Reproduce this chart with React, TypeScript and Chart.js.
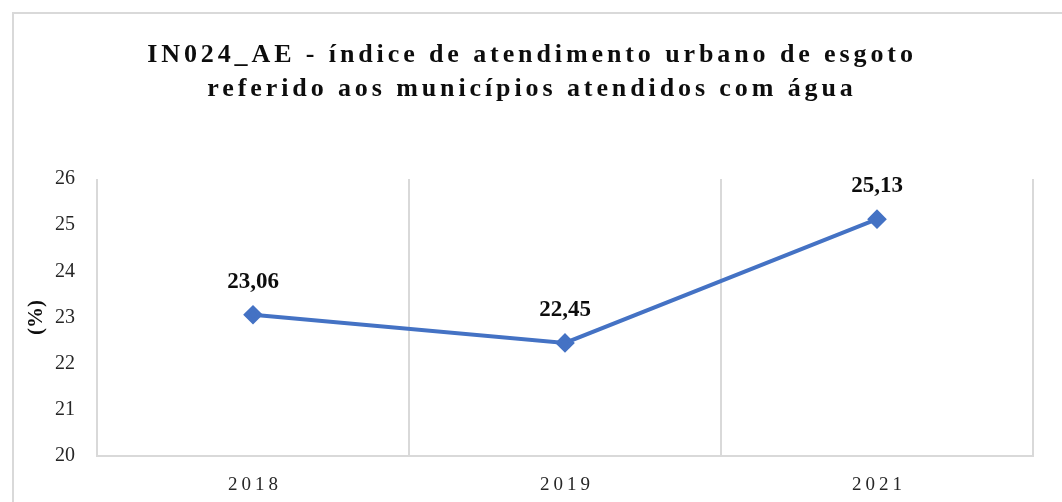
import React, { useEffect, useRef } from "react";
import { Chart, registerables } from "chart.js";

Chart.register(...registerables);

const categories = ["2018", "2019", "2021"];
const values = [23.06, 22.45, 25.13];
const valueLabels = ["23,06", "22,45", "25,13"];
const yTicks = [20, 21, 22, 23, 24, 25, 26];
const titleLines = [
  "IN024_AE - índice de atendimento urbano de esgoto",
  "referido aos municípios atendidos com água",
];
const yTitle = "(%)";

const SERIF = '"Liberation Serif", "Times New Roman", serif';

const overlayPlugin = {
  id: "overlay",
  afterDraw(chart: any) {
    const ctx = chart.ctx as any;
    const xs = chart.scales.x;
    const ys = chart.scales.y;
    ctx.save();
    // title
    ctx.fillStyle = "#0d0d0d";
    ctx.textAlign = "center";
    ctx.textBaseline = "middle";
    ctx.font = `bold 26px ${SERIF}`;
    ctx.letterSpacing = "3.9px";
    ctx.fillText(titleLines[0], 532, 55);
    ctx.fillText(titleLines[1], 532, 89);
    // x labels
    ctx.font = `19px ${SERIF}`;
    ctx.letterSpacing = "4px";
    ctx.fillStyle = "#262626";
    categories.forEach((c, i) => {
      ctx.fillText(c, xs.getPixelForValue(i) + 2, 485);
    });
    // data labels
    ctx.letterSpacing = "0px";
    ctx.font = `bold 23px ${SERIF}`;
    ctx.fillStyle = "#0d0d0d";
    values.forEach((v, i) => {
      ctx.fillText(valueLabels[i], xs.getPixelForValue(i), ys.getPixelForValue(v) - 33);
    });
    ctx.restore();
  },
};

export default function App() {
  const ref = useRef<HTMLCanvasElement>(null);
  useEffect(() => {
    if (!ref.current) return;
    const chart = new Chart(ref.current, {
      type: "line",
      data: {
        labels: categories,
        datasets: [
          {
            data: values,
            borderColor: "#4472C4",
            backgroundColor: "#4472C4",
            borderWidth: 4,
            pointStyle: "rectRot",
            pointRadius: 7,
            pointHoverRadius: 7,
            tension: 0,
          },
        ],
      },
      options: {
        animation: false,
        responsive: false,
        events: [],
        layout: { padding: { top: 179, right: 29, left: 0, bottom: 0 } },
        plugins: { legend: { display: false }, title: { display: false }, tooltip: { enabled: false } },
        scales: {
          x: {
            type: "category",
            offset: true,
            grid: { display: true, offset: true, color: "#d9d9d9", lineWidth: 2, drawTicks: false },
            border: { display: true, color: "#d9d9d9", width: 2 },
            ticks: { display: false },
            afterFit(scale: any) {
              scale.height = 46;
            },
          },
          y: {
            min: 20,
            max: 26,
            afterBuildTicks(scale: any) {
              scale.ticks = yTicks.map((v) => ({ value: v }));
            },
            grid: { display: false, drawTicks: false },
            border: { display: false },
            ticks: {
              padding: 22,
              color: "#262626",
              font: { family: SERIF, size: 20 },
            },
            title: {
              display: true,
              text: yTitle,
              color: "#0d0d0d",
              font: { family: SERIF, size: 21, weight: "bold" },
              padding: { top: 24, bottom: 0 },
            },
            afterFit(scale: any) {
              scale.width = 97;
            },
          },
        },
      },
      plugins: [overlayPlugin],
    });
    return () => chart.destroy();
  }, []);
  return (
    <div style={{ position: "fixed", left: 0, top: 0, width: 1062, height: 502, overflow: "hidden", background: "#fff" }}>
      <div
        style={{
          position: "absolute",
          left: 12,
          top: 12,
          width: 1100,
          height: 540,
          border: "2px solid #d9d9d9",
          boxSizing: "border-box",
        }}
      />
      <canvas ref={ref} width={1062} height={502} style={{ position: "absolute", left: 0, top: 0, width: 1062, height: 502 }} />
    </div>
  );
}
